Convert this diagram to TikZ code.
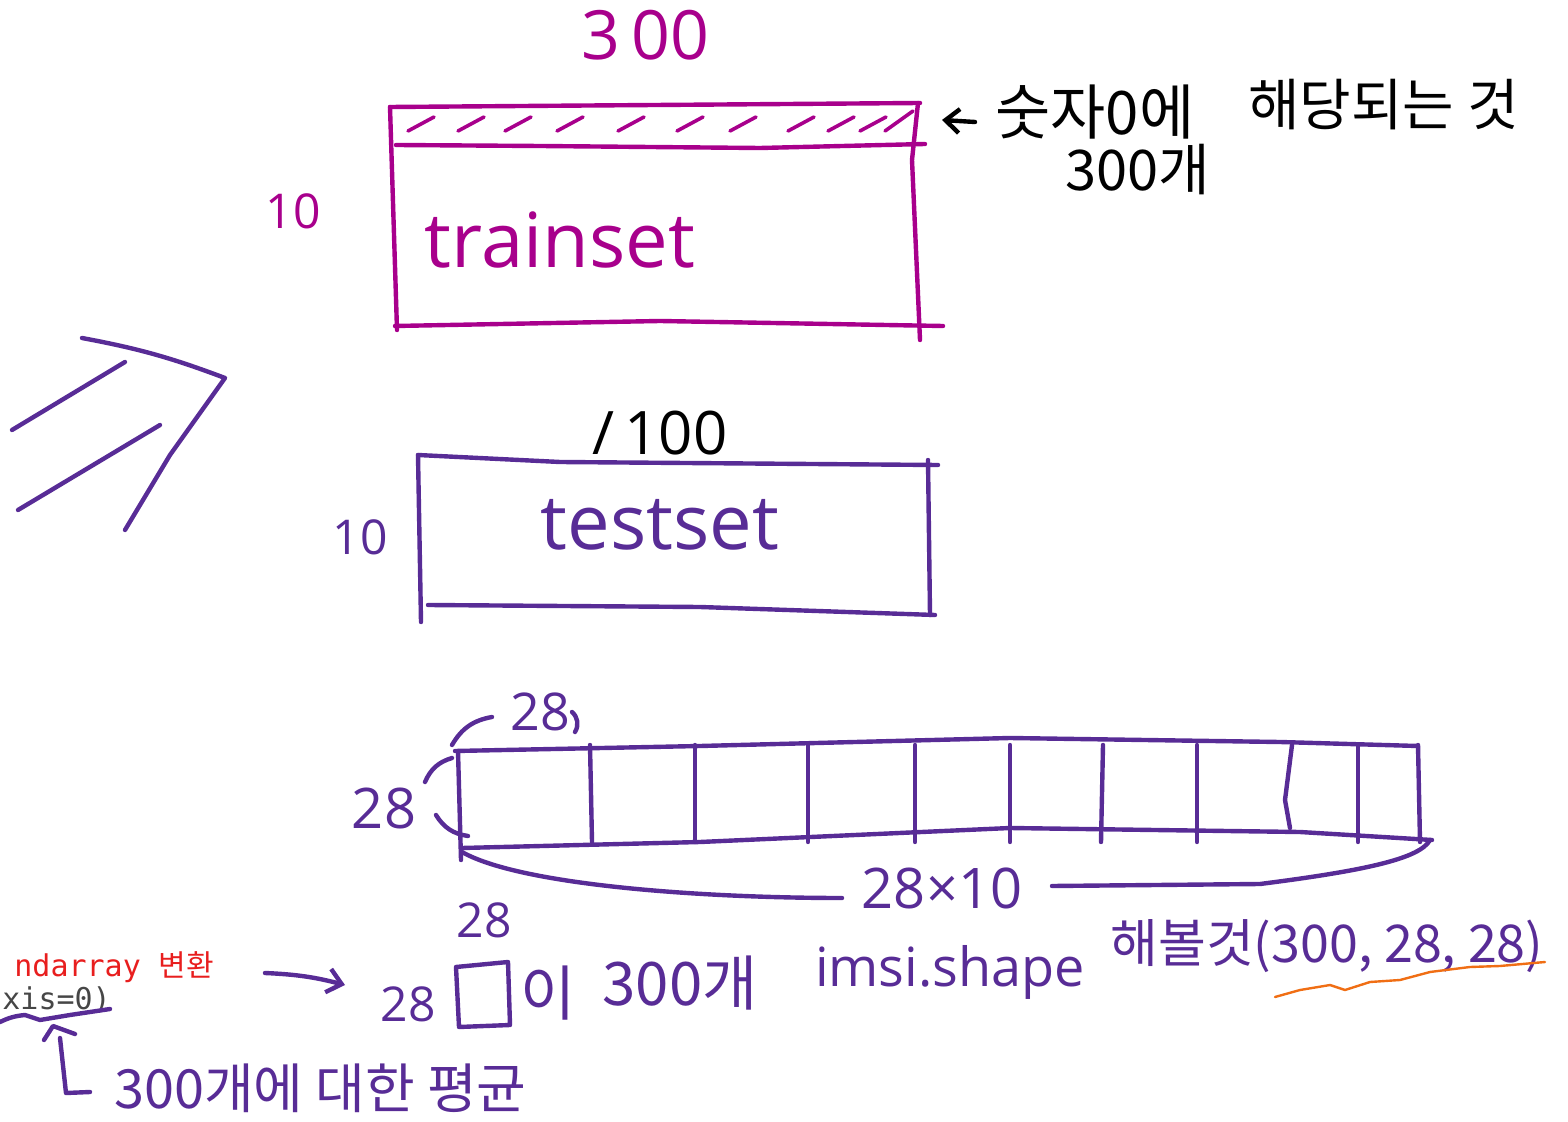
\documentclass[tikz,border=0pt]{standalone}
\usepackage{fontspec}
\usetikzlibrary{arrows.meta}
\setmainfont{Open Sans}
\newfontfamily\kr{Noto Sans CJK KR}
\newfontfamily\monof{DejaVu Sans Mono}
\definecolor{mag}{RGB}{168,0,140}
\definecolor{purp}{RGB}{88,44,150}
\definecolor{orng}{RGB}{240,110,20}
\definecolor{redt}{RGB}{232,30,30}
\definecolor{grayt}{RGB}{70,70,70}
\begin{document}
\begin{tikzpicture}[x=0.5pt,y=-0.5pt,line cap=round,line join=round,
  pen/.style={line width=2.2pt},
  magpen/.style={pen,draw=mag},
  purpen/.style={pen,draw=purp},
  hand/.style={inner sep=0pt,anchor=center},
  tip/.style={-{Straight Barb[length=7pt,width=12pt]}}]
\useasboundingbox (0,0) rectangle (1568,1122);

% ---------- trainset ----------
\draw[magpen] (390,107) -- (920,103);
\draw[magpen] (390,107) -- (397,330);
\draw[magpen] (395,326) -- (660,321) -- (943,326);
\draw[magpen] (918,103) -- (912,160) -- (920,340);
\draw[magpen] (396,145) -- (540,146) -- (760,148) -- (925,144);
\foreach \x in {408,458,505,557,618,677,730,788,828,860} {
  \draw[magpen,line width=1.8pt] (\x,131) -- ++(26,-14);
}
\draw[magpen,line width=1.8pt] (885,131) -- ++(28,-20);
\node[hand,text=mag,font=\fontsize{34}{34}\selectfont] (n300) at (645,35) {3\,00};
\node[hand,text=mag,font=\fontsize{24}{24}\selectfont] (n10a) at (293,211) {10};
\node[hand,text=mag,font=\fontsize{38}{38}\selectfont] (train) at (560,240) {trainset};

% ---------- big arrow ----------
\draw[purpen] (12,430) -- (125,362);
\draw[purpen] (18,510) -- (160,425);
\draw[purpen] (82,338) to[bend left=5] (225,378) -- (170,455) -- (125,530);

% ---------- testset ----------
\draw[purpen] (418,455) -- (560,462) -- (938,465);
\draw[purpen] (418,455) -- (421,622);
\draw[purpen] (428,605) -- (700,607) -- (935,615);
\draw[purpen] (928,460) -- (930,615);
\node[hand,text=black,font=\fontsize{30}{30}\selectfont] (n100) at (660,433) {/\,100};
\node[hand,text=purp,font=\fontsize{24}{24}\selectfont] (n10b) at (360,537) {10};
\node[hand,text=purp,font=\fontsize{38}{38}\selectfont] (test) at (660,525) {testset};

% ---------- top-right note ----------
\coordinate (arS) at (975,122);
\coordinate (arE) at (942,120);
\draw[pen,tip] (arS) -- (arE);
\node[hand,anchor=west,font=\kr\fontsize{30}{30}\selectfont] (note1) at (995,112) {숫자0에};
\node[hand,anchor=west,font=\kr\fontsize{28}{28}\selectfont] (note2) at (1248,105) {해당되는 것};
\node[hand,anchor=west,font=\kr\fontsize{28}{28}\selectfont] (note3) at (1065,170) {300개};

% ---------- 28x28 strip ----------
\draw[purpen] (455,751) -- (700,746) -- (1010,738) -- (1280,742) -- (1418,746);
\draw[purpen] (462,848) -- (700,842) -- (1010,828) -- (1300,832) -- (1432,840);
\draw[purpen] (458,751) -- (461,860);
\foreach \x/\d in {590/2,695/0,808/0,915/0,1010/0,1103/-2,1197/0,1358/0,1418/2} {
  \draw[purpen] (\x,745) -- (\x+\d,842);
}
\draw[purpen] (1292,745) -- (1285,800) -- (1290,828);
% braces
\draw[purpen] (452,745) to[bend left=25] (492,717);
\draw[purpen] (572,712) to[bend left=40] (575,732);
\node[hand,text=purp,font=\fontsize{26}{26}\selectfont] (w28) at (540,712) {28};
\draw[purpen] (452,758) to[bend right=25] (425,782);
\draw[purpen] (436,815) to[bend right=25] (468,836);
\node[hand,text=purp,font=\fontsize{28}{28}\selectfont] (h28) at (384,808) {28};
\draw[purpen] (462,852) .. controls (520,885) and (700,898) .. (842,898);
\draw[purpen] (1052,886) -- (1260,884) .. controls (1370,870) and (1420,858) .. (1430,840);
\node[hand,text=purp,font=\fontsize{28}{28}\selectfont] (w280) at (942,888) {28×10};

% ---------- bottom-left code ----------
\node[hand,anchor=west,text=redt,font=\monof\fontsize{15}{15}\selectfont] (ndar) at (14,967) {ndarray {\kr 변환}};
\node[hand,anchor=west,text=grayt,font=\monof\fontsize{15}{15}\selectfont] (axis) at (2,1000) {xis=0)};
\draw[purpen] (0,1022) to[bend left=10] (25,1015) -- (40,1020) -- (70,1015) -- (110,1009);
\coordinate (car) at (53,1026);
\draw[purpen] (44,1040) -- (car) -- (75,1034);
\draw[purpen] (60,1038) -- (66,1093) -- (90,1092);
\node[hand,anchor=west,text=purp,font=\kr\fontsize{27}{27}\selectfont] (avg) at (114,1088) {300개에 대한 평균};

% ---------- bottom row ----------
\coordinate (a1) at (265,973);
\coordinate (a2) at (345,985);
\draw[purpen,tip] (a1) to[bend left=6] (a2);
\node[hand,text=purp,font=\fontsize{24}{24}\selectfont] (t28) at (484,920) {28};
\node[hand,text=purp,font=\fontsize{24}{24}\selectfont] (l28) at (408,1004) {28};
\draw[purpen] (456,967) -- (508,962) -- (510,1025) -- (459,1027) -- cycle;
\node[hand,text=purp,font=\kr\fontsize{30}{30}\selectfont] (yi) at (548,993) {이};
\node[hand,text=purp,font=\kr\fontsize{30}{30}\selectfont] (c300) at (680,983) {300개};
\node[hand,text=purp,font=\fontsize{27}{27}\selectfont] (imsi) at (950,972) {imsi.shape};
\node[hand,anchor=west,text=purp,font=\kr\fontsize{26}{26}\selectfont] (tryit) at (1110,946) {해볼것(300, 28, 28)};
\draw[orng,line width=1.2pt] (1275,997) -- (1300,990) -- (1330,985) -- (1345,990) -- (1370,982) -- (1400,980) -- (1430,972) -- (1470,967) -- (1500,966) -- (1545,962);
\end{tikzpicture}
\end{document}
